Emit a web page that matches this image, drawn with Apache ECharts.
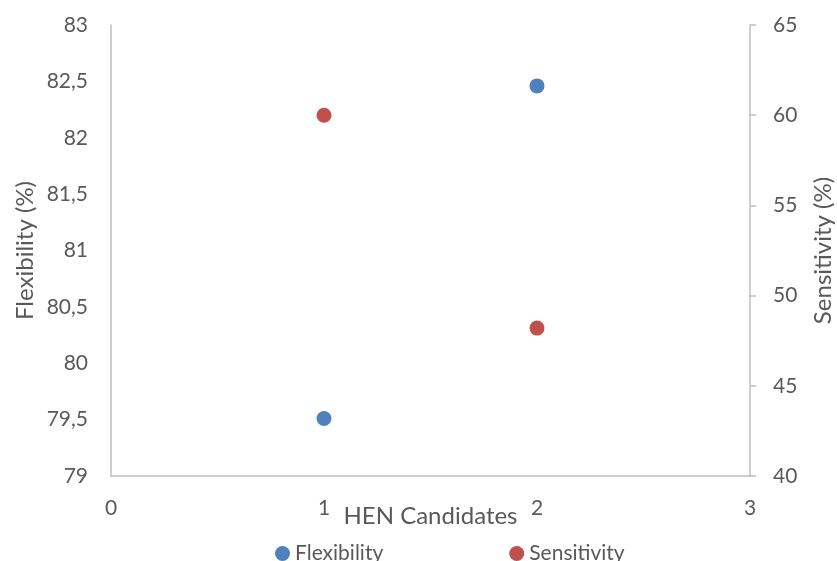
<!DOCTYPE html>
<html>
<head>
<meta charset="utf-8">
<script src="https://cdn.jsdelivr.net/npm/echarts@6/dist/echarts.min.js"></script>
<style>html,body{margin:0;padding:0;background:#fff}#c{width:837px;height:561px}</style>
</head>
<body>
<div id="c"></div>
<script>
const candidates = [1, 2];
const flexibility = [79.51, 82.46];
const sensitivity = [60.0, 48.2];
const seriesNames = ['Flexibility', 'Sensitivity'];

const FONT = 'Lato';
const TXT = '#595959';
const AX = '#bfbfbf';
const fmt = v => String(v).replace('.', ',');

const chart = echarts.init(document.getElementById('c'));
chart.setOption({
  animation: false,
  textStyle: {fontFamily: FONT},
  grid: {left: 111, right: 87, top: 25, bottom: 85, containLabel: false, outerBoundsMode: 'none'},
  legend: {
    left: 270, top: 538, itemGap: 126, itemTextGap: 7, itemWidth: 15, itemHeight: 15,
    icon: 'circle',
    textStyle: {fontFamily: FONT, fontSize: 21, color: TXT},
    data: seriesNames
  },
  xAxis: {
    type: 'value', min: 0, max: 3, interval: 1,
    name: 'HEN Candidates', nameLocation: 'middle', nameGap: 28, nameMoveOverlap: false,
    nameTextStyle: {fontFamily: FONT, fontSize: 24, color: TXT},
    axisLine: {show: true, onZero: false, lineStyle: {color: AX, width: 1.5}},
    axisTick: {show: false},
    splitLine: {show: false},
    axisLabel: {color: TXT, fontSize: 21, margin: 22, fontFamily: FONT}
  },
  yAxis: [
    {
      type: 'value', min: 79, max: 83, interval: 0.5, position: 'left',
      name: 'Flexibility (%)', nameLocation: 'middle', nameGap: 74, nameRotate: 90, nameMoveOverlap: false,
      nameTextStyle: {fontFamily: FONT, fontSize: 24, color: TXT},
      axisLine: {show: true, onZero: false, lineStyle: {color: AX, width: 1.5}},
      axisTick: {show: false},
      splitLine: {show: false},
      axisLabel: {color: TXT, fontSize: 21, margin: 23, fontFamily: FONT, formatter: fmt}
    },
    {
      type: 'value', min: 40, max: 65, interval: 5, position: 'right',
      name: 'Sensitivity (%)', nameLocation: 'middle', nameGap: 61, nameRotate: 90, nameMoveOverlap: false,
      nameTextStyle: {fontFamily: FONT, fontSize: 24, color: TXT},
      axisLine: {show: true, onZero: false, lineStyle: {color: AX, width: 1.5}},
      axisTick: {show: true, length: 6, lineStyle: {color: AX, width: 1.5}},
      splitLine: {show: false},
      axisLabel: {color: TXT, fontSize: 21, margin: 23, fontFamily: FONT, formatter: fmt}
    }
  ],
  series: [
    {
      name: seriesNames[0], type: 'scatter', yAxisIndex: 0, symbolSize: 15,
      itemStyle: {color: '#4f81bd', opacity: 1},
      data: candidates.map((c, i) => [c, flexibility[i]])
    },
    {
      name: seriesNames[1], type: 'scatter', yAxisIndex: 1, symbolSize: 15,
      itemStyle: {color: '#c0504d', opacity: 1},
      data: candidates.map((c, i) => [c, sensitivity[i]])
    }
  ]
});
</script>
</body>
</html>
